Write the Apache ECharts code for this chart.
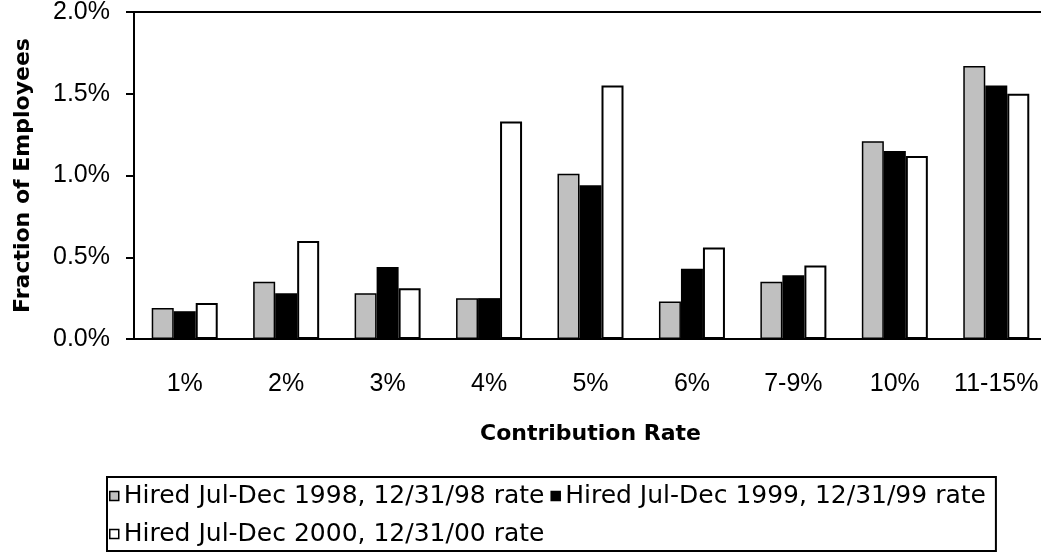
<!DOCTYPE html>
<html>
<head>
<meta charset="utf-8">
<script src="https://cdn.jsdelivr.net/npm/echarts@6/dist/echarts.min.js"></script>
<style>
  html, body { margin: 0; padding: 0; background: #fff; }
  #chart { width: 1041px; height: 557px; }
</style>
</head>
<body>
<div id="chart"></div>
<script>
const categories = ['1%', '2%', '3%', '4%', '5%', '6%', '7-9%', '10%', '11-15%']
const seriesNames = [
  'Hired Jul-Dec 1998, 12/31/98 rate',
  'Hired Jul-Dec 1999, 12/31/99 rate',
  'Hired Jul-Dec 2000, 12/31/00 rate'
]
// values in percent of employees
const hired1998 = [0.19, 0.35, 0.28, 0.25, 1.01, 0.23, 0.35, 1.21, 1.67]
const hired1999 = [0.17, 0.28, 0.44, 0.25, 0.94, 0.43, 0.39, 1.15, 1.55]
const hired2000 = [0.22, 0.60, 0.31, 1.33, 1.55, 0.56, 0.45, 1.12, 1.50]
const yTicks = [0, 0.5, 1.0, 1.5, 2.0]

const fills = ['#c0c0c0', '#000000', '#ffffff']
const labelFont = 'Liberation Sans, Arial, sans-serif'
const titleFont = 'DejaVu Sans, sans-serif'

const chart = echarts.init(document.getElementById('chart'), null, { renderer: 'canvas' })

const makeBar = (name, data, i) => ({
  name,
  type: 'bar',
  data,
  barWidth: 22,
  barGap: '0%',
  itemStyle: { color: fills[i], borderColor: '#000', borderWidth: i === 1 ? 0 : (i === 0 ? 1.5 : 2) }
})

chart.setOption({
  animation: false,
  backgroundColor: '#fff',
  grid: { left: 134, top: 12, right: -6, bottom: 218, containLabel: false, outerBoundsMode: 'none' },
  legend: {
    left: 107,
    top: 477,
    width: 910,
    padding: [3, 10, 1, 2],
    itemGap: 6,
    itemWidth: 9,
    itemHeight: 9,
    borderColor: '#000',
    borderWidth: 2,
    icon: 'rect',
    itemStyle: { borderWidth: 1.5 },
    textStyle: { fontFamily: titleFont, fontSize: 25, color: '#000', lineHeight: 32 },
    data: seriesNames
  },
  xAxis: [
    {
      type: 'category',
      data: categories,
      position: 'bottom',
      axisLine: { lineStyle: { color: '#000', width: 2 } },
      axisTick: { interval: 0, length: 8, lineStyle: { color: '#000', width: 2 } },
      axisLabel: { interval: 0, color: '#000', fontFamily: labelFont, fontSize: 25, margin: 33 },
      name: 'Contribution Rate',
      nameLocation: 'middle',
      nameGap: 84,
      nameTextStyle: { color: '#000', fontFamily: titleFont, fontWeight: 'bold', fontSize: 22 }
    },
    {
      type: 'category',
      data: categories,
      position: 'top',
      axisLine: { lineStyle: { color: '#000', width: 2 } },
      axisTick: { show: false },
      axisLabel: { show: false }
    }
  ],
  yAxis: {
    type: 'value',
    min: yTicks[0],
    max: yTicks[yTicks.length - 1],
    interval: 0.5,
    splitLine: { show: false },
    axisLine: { show: true, lineStyle: { color: '#000', width: 2 } },
    axisTick: { show: true, length: 8, lineStyle: { color: '#000', width: 2 } },
    axisLabel: {
      color: '#000',
      fontFamily: labelFont,
      fontSize: 25,
      margin: 24,
      formatter: v => v.toFixed(1) + '%'
    },
    name: 'Fraction of Employees',
    nameLocation: 'middle',
    nameGap: 100,
    nameRotate: 90,
    nameTextStyle: { color: '#000', fontFamily: titleFont, fontWeight: 'bold', fontSize: 22 }
  },
  series: [
    makeBar(seriesNames[0], hired1998, 0),
    makeBar(seriesNames[1], hired1999, 1),
    makeBar(seriesNames[2], hired2000, 2)
  ]
})
</script>
</body>
</html>
